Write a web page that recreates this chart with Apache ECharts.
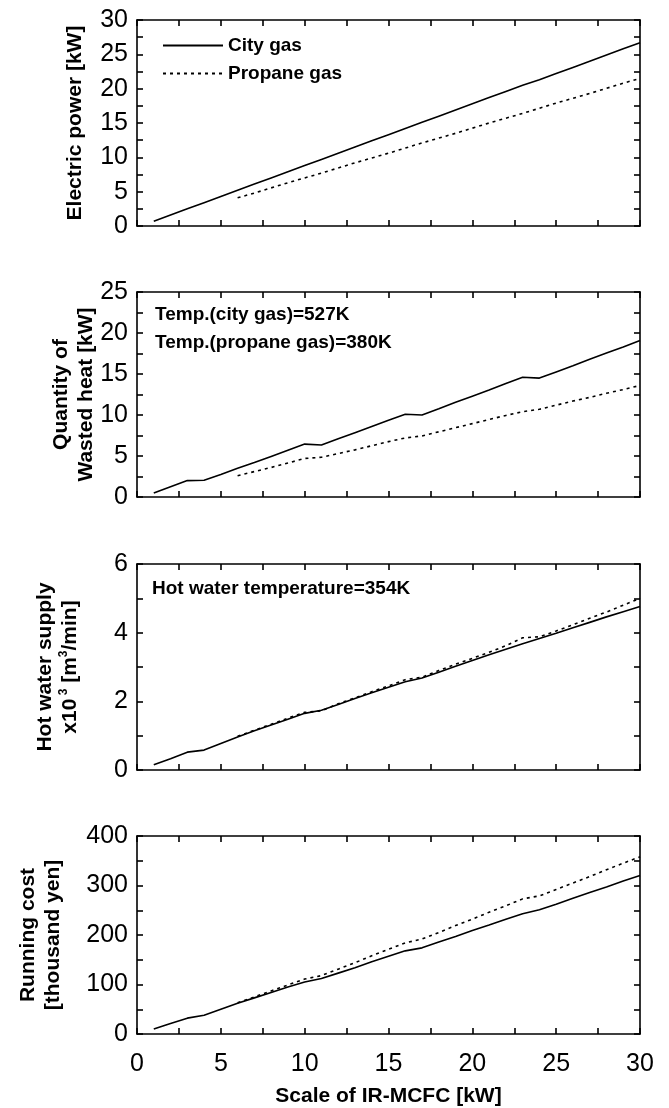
<!DOCTYPE html>
<html>
<head>
    <meta charset="utf-8"/>
    <title>IR-MCFC scale</title>
    <script src="https://cdn.jsdelivr.net/npm/echarts@6/dist/echarts.min.js"></script>
    <style>
        html, body { margin: 0; padding: 0; background: #fff; }
        #chart { width: 669px; height: 1108px; }
    </style>
</head>
<body>
<div id="chart"></div>
<script>
    // x values (scale of IR-MCFC, kW)
    var scaleCity = [1, 2, 3, 4, 5, 6, 7, 8, 9, 10, 11, 12, 13, 14, 15, 16, 17, 18, 19, 20, 21, 22, 23, 24, 25, 26, 27, 28, 29, 30];
    var scalePropane = [6, 7, 8, 9, 10, 11, 12, 13, 14, 15, 16, 17, 18, 19, 20, 21, 22, 23, 24, 25, 26, 27, 28, 29, 30];

    // electric power [kW]
    var powerCity = [0.7, 1.6, 2.5, 3.4, 4.3, 5.2, 6.1, 7.0, 7.9, 8.8, 9.7, 10.6, 11.5, 12.4, 13.3, 14.2, 15.1, 16.0, 16.9, 17.8, 18.7, 19.6, 20.5, 21.3, 22.2, 23.1, 24.0, 24.9, 25.8, 26.7];
    var powerPropane = [4.1, 4.8, 5.55, 6.3, 7.0, 7.7, 8.45, 9.2, 9.9, 10.6, 11.35, 12.1, 12.8, 13.5, 14.25, 15.0, 15.7, 16.4, 17.15, 17.9, 18.6, 19.3, 20.05, 20.8, 21.5];

    // quantity of wasted heat [kW]
    var heatCity = [0.5, 1.25, 2.0, 2.05, 2.75, 3.5, 4.2, 4.95, 5.7, 6.45, 6.35, 7.1, 7.85, 8.6, 9.35, 10.1, 10.0, 10.75, 11.55, 12.3, 13.05, 13.85, 14.6, 14.5, 15.25, 16.0, 16.8, 17.55, 18.3, 19.1];
    var heatPropane = [2.6, 3.1, 3.6, 4.15, 4.7, 4.85, 5.3, 5.75, 6.25, 6.75, 7.2, 7.45, 7.95, 8.45, 8.95, 9.45, 9.95, 10.4, 10.7, 11.2, 11.7, 12.15, 12.65, 13.1, 13.6];

    // hot water supply x10^3 [m3/min]
    var waterCity = [0.15, 0.33, 0.52, 0.58, 0.77, 0.96, 1.14, 1.31, 1.48, 1.65, 1.74, 1.91, 2.08, 2.25, 2.41, 2.57, 2.68, 2.85, 3.02, 3.19, 3.36, 3.52, 3.68, 3.83, 3.98, 4.14, 4.30, 4.46, 4.61, 4.76];
    var waterPropane = [0.98, 1.16, 1.33, 1.51, 1.68, 1.72, 1.93, 2.10, 2.28, 2.45, 2.63, 2.70, 2.90, 3.08, 3.25, 3.43, 3.62, 3.85, 3.88, 4.05, 4.23, 4.42, 4.60, 4.80, 5.00];

    // running cost [thousand yen]
    var costCity = [10, 21, 32, 38, 50, 62, 73, 84, 95, 105, 112, 123, 134, 146, 157, 168, 174, 186, 197, 209, 220, 232, 243, 251, 262, 274, 286, 297, 309, 320];
    var costPropane = [63, 75, 87, 99, 111, 118, 131, 144, 158, 171, 184, 192, 205, 219, 232, 246, 259, 273, 279, 292, 305, 318, 332, 345, 358];

    var xTicks = [0, 5, 10, 15, 20, 25, 30];
    var panelMax = [30, 25, 6, 400];
    var panelStep = [5, 5, 2, 100];

    var tickFont = '"Liberation Sans", Arial, sans-serif';
    var boldFont = '"Liberation Sans", Arial, sans-serif';

    var panels = [
        {top: 20, height: 206, city: powerCity, propane: powerPropane,
            name: 'Electric power [kW]', gap: 49},
        {top: 292, height: 205, city: heatCity, propane: heatPropane,
            name: 'Quantity of\nWasted heat [kW]', gap: 38},
        {top: 564, height: 206, city: waterCity, propane: waterPropane,
            name: '{a|Hot water supply}\n{a|x10}{s| 3}{a| [m}{s|3}{a|/min]}', gap: 54},
        {top: 836, height: 205, city: costCity, propane: costPropane,
            name: 'Running cost\n[thousand yen]', gap: 71}
    ];

    function pairs(xs, ys) {
        return xs.map(function (x, i) { return [x, ys[i]]; });
    }

    var grid = [], xAxis = [], yAxis = [], series = [];
    var axisLine = {show: true, onZero: false, lineStyle: {color: '#000', width: 1.6}};
    var tickLine = {color: '#000', width: 1.6};

    panels.forEach(function (p, i) {
        grid.push({left: 137, right: 29, top: p.top, height: p.height});
        var last = i === panels.length - 1;
        // bottom and top x axes (box frame, inward ticks)
        ['bottom', 'top'].forEach(function (pos) {
            xAxis.push({
                gridIndex: i, type: 'value', position: pos,
                min: 0, max: 30, interval: 5,
                axisLine: axisLine,
                axisTick: {show: true, inside: true, length: 6, lineStyle: tickLine},
                minorTick: {show: true, splitNumber: 2, length: 6, lineStyle: tickLine},
                splitLine: {show: false},
                axisLabel: {show: pos === 'bottom' && last, margin: 18, color: '#000',
                    fontFamily: tickFont, fontSize: 25,
                    formatter: function (v) { return xTicks.indexOf(v) >= 0 ? String(v) : ''; }},
                name: (pos === 'bottom' && last) ? 'Scale of IR-MCFC [kW]' : '',
                nameLocation: 'middle', nameGap: 52, nameMoveOverlap: false,
                nameTextStyle: {color: '#000', fontFamily: boldFont, fontWeight: 'bold', fontSize: 21}
            });
        });
        ['left', 'right'].forEach(function (pos) {
            yAxis.push({
                gridIndex: i, type: 'value', position: pos,
                min: 0, max: panelMax[i], interval: panelStep[i],
                axisLine: axisLine,
                axisTick: {show: true, inside: true, length: 6, lineStyle: tickLine},
                minorTick: {show: true, splitNumber: 2, length: 6, lineStyle: tickLine},
                splitLine: {show: false},
                axisLabel: {show: pos === 'left', margin: 9, color: '#000',
                    fontFamily: tickFont, fontSize: 25},
                name: pos === 'left' ? p.name : '',
                nameLocation: 'middle', nameRotate: 90, nameGap: p.gap, nameMoveOverlap: false,
                nameTextStyle: {
                    color: '#000', fontFamily: boldFont, fontWeight: 'bold', fontSize: 21,
                    lineHeight: 25, align: 'center',
                    rich: {
                        a: {fontFamily: boldFont, fontWeight: 'bold', fontSize: 21, color: '#000', lineHeight: 25},
                        s: {fontFamily: boldFont, fontWeight: 'bold', fontSize: 12, color: '#000',
                            verticalAlign: 'top', lineHeight: 25}
                    }
                }
            });
        });
        series.push({
            name: 'City gas', type: 'line', xAxisIndex: 2 * i, yAxisIndex: 2 * i,
            symbol: 'none', silent: true,
            itemStyle: {color: '#000'},
            lineStyle: {color: '#000', width: 1.6, type: 'solid'},
            data: pairs(scaleCity, p.city)
        });
        series.push({
            name: 'Propane gas', type: 'line', xAxisIndex: 2 * i, yAxisIndex: 2 * i,
            symbol: 'none', silent: true,
            itemStyle: {color: '#000'},
            lineStyle: {color: '#000', width: 1.6, type: [3, 4]},
            data: pairs(scalePropane, p.propane)
        });
    });

    var noteStyle = {fill: '#000', font: 'bold 19px "Liberation Sans", Arial, sans-serif', textVerticalAlign: 'middle'};

    var chart = echarts.init(document.getElementById('chart'), null, {renderer: 'canvas'});
    chart.setOption({
        backgroundColor: '#fff',
        animation: false,
        grid: grid,
        xAxis: xAxis,
        yAxis: yAxis,
        legend: {
            data: ['City gas', 'Propane gas'],
            orient: 'vertical', left: 157, top: 31,
            itemWidth: 60, itemHeight: 20, itemGap: 9,
            selectedMode: false,
            itemStyle: {opacity: 0},
            textStyle: {color: '#000', fontFamily: boldFont, fontWeight: 'bold', fontSize: 19}
        },
        graphic: [
            {type: 'text', left: 155, top: 305, style: Object.assign({text: 'Temp.(city gas)=527K'}, noteStyle)},
            {type: 'text', left: 155, top: 333, style: Object.assign({text: 'Temp.(propane gas)=380K'}, noteStyle)},
            {type: 'text', left: 152, top: 579, style: Object.assign({text: 'Hot water temperature=354K'}, noteStyle)}
        ],
        series: series
    });
</script>
</body>
</html>
